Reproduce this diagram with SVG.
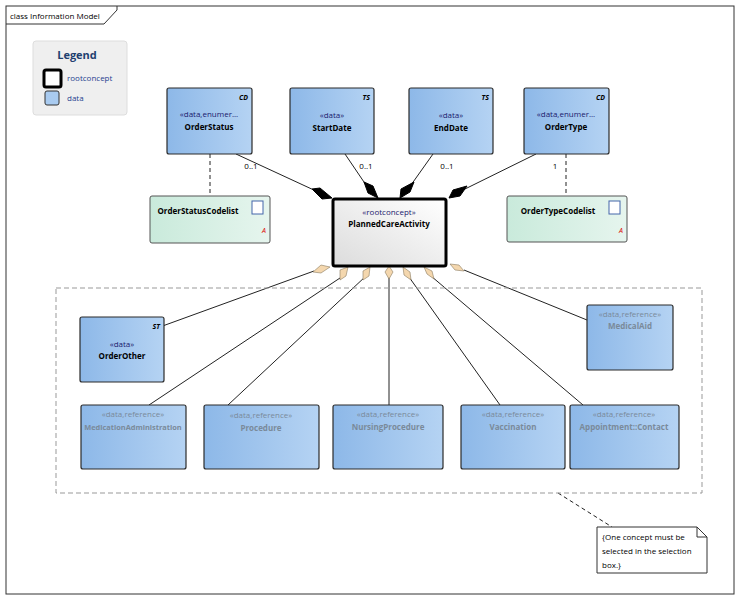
<svg xmlns="http://www.w3.org/2000/svg" width="740" height="600" viewBox="0 0 740 600">
<defs>
<linearGradient id="blue" x1="0" x2="1" y1="0" y2="0"><stop offset="0" stop-color="#8db8e8"/><stop offset="1" stop-color="#b5d3f3"/></linearGradient>
<linearGradient id="green" x1="0" x2="1" y1="0" y2="0"><stop offset="0" stop-color="#c9eadb"/><stop offset="1" stop-color="#e6f5ee"/></linearGradient>
<linearGradient id="grey" x1="0" x2="1" y1="1" y2="0"><stop offset="0" stop-color="#dcdcdc"/><stop offset="1" stop-color="#ffffff"/></linearGradient>
</defs>
<style>
text{font-family:"Open Sans","Liberation Sans",sans-serif;font-size:8px;text-anchor:middle;fill:#000}
.b{font-weight:bold}
.st{fill:#1a1a6e}
.ref{fill:#7a8a9a}
.tag{font-style:italic;font-weight:bold;font-size:7px;text-anchor:end}
.node{fill:url(#blue);stroke:#2b2b2b;stroke-width:1.2}
.cl{fill:url(#green);stroke:#555;stroke-width:1}
.ln{stroke:#222;stroke-width:1;fill:none}
.dash{stroke:#222;stroke-width:1;stroke-dasharray:4,3;fill:none}
.fd{fill:#000;stroke:#000}
.hd{fill:#f4d7ae;stroke:#8a7a60;stroke-width:0.6}
</style>
<rect x="0" y="0" width="740" height="600" fill="#fff"/>
<rect x="6" y="6" width="728" height="588" fill="none" stroke="#333"/>
<path d="M6 24 H104 L117 10 V6" fill="none" stroke="#333"/>
<text x="10" y="19" style="text-anchor:start;font-size:8px">class Information Model</text>

<g id="legend">
<rect x="33" y="41" width="94" height="74" rx="3" fill="#efefef" stroke="#ddd"/>
<text x="77" y="59" class="b" style="font-size:11px;fill:#1f3f6f">Legend</text>
<rect x="44" y="70" width="17" height="17" rx="2" fill="#fff" stroke="#000" stroke-width="3"/>
<text x="67" y="81" style="text-anchor:start;fill:#1f3f8f">rootconcept</text>
<rect x="45" y="91" width="14" height="14" rx="2" fill="#a9cbf0" stroke="#333"/>
<text x="67" y="101" style="text-anchor:start;fill:#1f3f8f">data</text>
</g>

<g id="connectors">
<line class="dash" x1="210" y1="154" x2="210" y2="196"/>
<line class="dash" x1="566" y1="154" x2="566" y2="196"/>
<line class="ln" x1="236" y1="154" x2="316" y2="191"/>
<path class="fd" d="M332 198 L322 199 L312 189 L320 188 Z"/>
<line class="ln" x1="345" y1="154" x2="366" y2="185"/>
<path class="fd" d="M378 198 L368 193 L364 182 L373 186 Z"/>
<line class="ln" x1="433" y1="154" x2="411" y2="185"/>
<path class="fd" d="M400 198 L401 189 L414 182 L410 192 Z"/>
<line class="ln" x1="536" y1="154" x2="465" y2="189"/>
<path class="fd" d="M449 198 L453 190 L467 186 L460 196 Z"/>
<text x="251" y="169">0..1</text>
<text x="366" y="169">0..1</text>
<text x="447" y="169">0..1</text>
<text x="555" y="169">1</text>

<line class="ln" x1="314" y1="271" x2="146" y2="332"/>
<line class="ln" x1="343" y1="276" x2="149" y2="405"/>
<line class="ln" x1="366" y1="276" x2="228" y2="405"/>
<line class="ln" x1="389" y1="277" x2="389" y2="405"/>
<line class="ln" x1="409" y1="277" x2="500" y2="405"/>
<line class="ln" x1="431" y1="276" x2="583" y2="405"/>
<line class="ln" x1="464" y1="270" x2="587" y2="320"/>
<path class="hd" d="M330 267 L321 265 L313 272 L321 273 Z"/>
<path class="hd" d="M348 267 L340 270 L340 280 L346 276 Z"/>
<path class="hd" d="M370 267 L363 271 L363 280 L369 276 Z"/>
<path class="hd" d="M389 266 L385 272 L389 279 L393 272 Z"/>
<path class="hd" d="M403 267 L404 275 L411 280 L410 272 Z"/>
<path class="hd" d="M424 267 L427 274 L434 279 L432 271 Z"/>
<path class="hd" d="M450 264 L455 270 L464 271 L459 265 Z"/>
<line class="dash" x1="558" y1="493" x2="612" y2="527"/>
</g>

<rect x="56" y="288" width="646" height="205" fill="none" stroke="#999" stroke-dasharray="5,3"/>

<g id="OrderStatus"><rect class="node" x="167" y="88" width="85" height="66" rx="2"/><text class="tag" x="248" y="100">CD</text><text x="209" y="117" class="st">«data,enumer...</text><text x="209" y="130" class="b">OrderStatus</text></g>
<g id="StartDate"><rect class="node" x="290" y="88" width="84" height="66" rx="2"/><text class="tag" x="370" y="100">TS</text><text x="332" y="118" class="st">«data»</text><text x="332" y="131" class="b">StartDate</text></g>
<g id="EndDate"><rect class="node" x="409" y="88" width="84" height="66" rx="2"/><text class="tag" x="489" y="100">TS</text><text x="451" y="118" class="st">«data»</text><text x="451" y="131" class="b">EndDate</text></g>
<g id="OrderType"><rect class="node" x="524" y="88" width="85" height="66" rx="2"/><text class="tag" x="605" y="100">CD</text><text x="566" y="117" class="st">«data,enumer...</text><text x="566" y="130" class="b">OrderType</text></g>

<g id="OrderStatusCodelist"><rect class="cl" x="150" y="196" width="120" height="47" rx="2"/><text x="198" y="214" class="b">OrderStatusCodelist</text><rect x="252" y="201" width="11" height="13" fill="#fff" stroke="#46a"/><text x="264" y="233" style="fill:#d00;font-size:7px;font-style:italic">A</text></g>
<g id="OrderTypeCodelist"><rect class="cl" x="507" y="196" width="120" height="46" rx="2"/><text x="558" y="214" class="b">OrderTypeCodelist</text><rect x="609" y="201" width="11" height="13" fill="#fff" stroke="#46a"/><text x="621" y="233" style="fill:#d00;font-size:7px;font-style:italic">A</text></g>

<g id="PlannedCareActivity"><rect x="333" y="199" width="113" height="67" rx="2" fill="url(#grey)" stroke="#000" stroke-width="3"/><text x="389" y="215" class="st">«rootconcept»</text><text x="389" y="227" class="b">PlannedCareActivity</text></g>

<g id="OrderOther"><rect class="node" x="80" y="317" width="84" height="65" rx="2"/><text class="tag" x="160" y="329">ST</text><text x="122" y="347" class="st">«data»</text><text x="122" y="359" class="b">OrderOther</text></g>
<g id="MedicalAid"><rect class="node" x="587" y="305" width="86" height="65" rx="2"/><text x="630" y="317" class="ref">«data,reference»</text><text x="630" y="329" class="ref b">MedicalAid</text></g>
<g id="MedicationAdministration"><rect class="node" x="81" y="405" width="105" height="64" rx="2"/><text x="133" y="417" class="ref">«data,reference»</text><text x="133" y="430" class="ref b" style="font-size:7.4px">MedicationAdministration</text></g>
<g id="Procedure"><rect class="node" x="204" y="405" width="115" height="64" rx="2"/><text x="261" y="418" class="ref">«data,reference»</text><text x="261" y="431" class="ref b">Procedure</text></g>
<g id="NursingProcedure"><rect class="node" x="333" y="405" width="110" height="64" rx="2"/><text x="388" y="417" class="ref">«data,reference»</text><text x="388" y="430" class="ref b">NursingProcedure</text></g>
<g id="Vaccination"><rect class="node" x="461" y="405" width="104" height="64" rx="2"/><text x="513" y="417" class="ref">«data,reference»</text><text x="513" y="430" class="ref b">Vaccination</text></g>
<g id="AppointmentContact"><rect class="node" x="570" y="405" width="109" height="64" rx="2"/><text x="624" y="417" class="ref">«data,reference»</text><text x="624" y="430" class="ref b">Appointment::Contact</text></g>

<g id="note"><path d="M597 527 H697 L707 537 V573 H597 Z" fill="#fff" stroke="#333"/><path d="M697 527 V537 H707" fill="none" stroke="#333"/>
<text x="602" y="540" style="text-anchor:start">{One concept must be</text><text x="602" y="554" style="text-anchor:start">selected in the selection</text><text x="602" y="568" style="text-anchor:start">box.}</text></g>
</svg>
